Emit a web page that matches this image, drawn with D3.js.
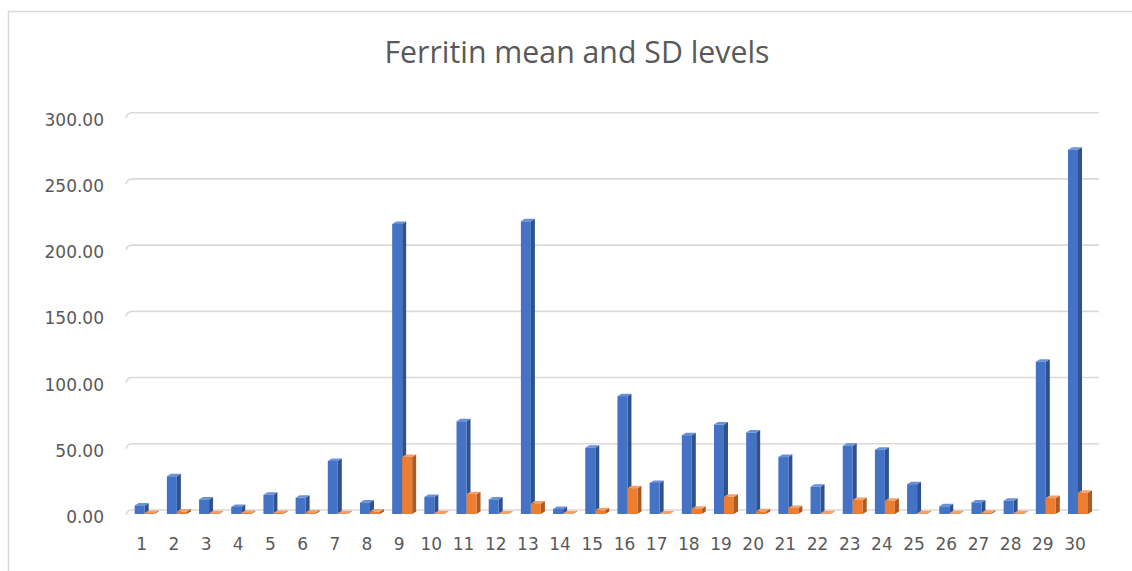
<!DOCTYPE html>
<html>
  <head>
    <meta charset="utf-8">
    <title>Ferritin mean and SD levels</title>
    <script src="https://d3js.org/d3.v7.min.js" charset="utf-8"></script>
    <style>
      body { margin: 0; background: #fff; }
      text { font-family: "DejaVu Sans", sans-serif; fill: #595959; }
    </style>
  </head>
  <body>
    <script>
      var width = 1132;
      var height = 571;

      // data
      var categories = d3.range(1, 31).map(String);
      var meanVals = [6.5, 28.5, 11, 5.3, 14.5, 12.2, 40, 8.7, 219, 12.8,
                      70, 11, 221, 3.8, 50, 89, 23.5, 59.5, 67.5, 61.5,
                      43, 20.5, 51.5, 48.5, 22.5, 5.8, 8.7, 10, 115, 275];
      var sdVals = [0.8, 1.8, 0.6, 0.8, 0.8, 1.2, 0.6, 1.8, 43, 0.6,
                    15, 0.4, 8, 0.5, 2.8, 19.5, 0.4, 4, 13, 2,
                    4.5, 0.5, 10.5, 10, 0.5, 0.5, 1, 0.6, 12, 16];
      var yTicks = [0, 50, 100, 150, 200, 250, 300];

      var series = [
        { values: meanVals, front: "#4472C4", side: "#2F528F", top: "#6A8FD6", off: -7 },
        { values: sdVals, front: "#ED7D31", side: "#AE5A21", top: "#F4A06A", off: 3 }
      ];

      var svg = d3.select("body")
          .append("svg")
          .attr("width", width)
          .attr("height", height);

      // chart border
      svg.append("rect")
        .attr("x", 8.5).attr("y", 11.5)
        .attr("width", 1200).attr("height", 700)
        .attr("fill", "none")
        .attr("stroke", "#d9d9d9")
        .attr("stroke-width", 1.5);

      svg.append("text")
        .attr("x", 577)
        .attr("y", 63)
        .attr("text-anchor", "middle")
        .attr("textLength", 385)
        .attr("lengthAdjust", "spacingAndGlyphs")
        .style("font-family", "'Open Sans', sans-serif")
        .style("font-size", "31px")
        .text("Ferritin mean and SD levels");

      var x = d3.scaleBand().domain(categories).range([125.6, 1091.1]);
      var y = d3.scaleLinear().domain([0, 300]).range([510, 112.7]);

      var front = 4;   // front face sits a bit lower than back wall
      var dx = 4, dy = 2.5, bw = 10;

      // gridlines on back wall
      var grid = svg.append("g");
      grid.selectAll("line")
        .data(yTicks)
        .enter()
        .append("line")
        .attr("x1", 131).attr("x2", 1099)
        .attr("y1", function(d) { return y(d); })
        .attr("y2", function(d) { return y(d); })
        .attr("stroke", "#d9d9d9")
        .attr("stroke-width", 1.6);
      grid.selectAll("path")
        .data(yTicks)
        .enter()
        .append("path")
        .attr("d", function(d) { return "M131," + y(d) + " Q127," + (y(d) + 1) + " 126," + (y(d) + 5); })
        .attr("fill", "none")
        .attr("stroke", "#d9d9d9")
        .attr("stroke-width", 1.6);

      // y labels
      var yAxis = d3.axisLeft(y).tickValues(yTicks).tickFormat(d3.format(".2f")).tickSize(0).tickPadding(0);
      var ya = svg.append("g").attr("transform", "translate(104,7)").call(yAxis);
      ya.select(".domain").remove();
      ya.selectAll("text")
        .attr("fill", "#595959")
        .style("font-family", "'DejaVu Sans', sans-serif")
        .style("font-size", "17px");

      // x labels
      var xAxis = d3.axisBottom(x).tickSize(0).tickPadding(0);
      var xa = svg.append("g").attr("transform", "translate(0,538)").call(xAxis);
      xa.select(".domain").remove();
      xa.selectAll("text")
        .attr("fill", "#595959")
        .style("font-family", "'DejaVu Sans', sans-serif")
        .style("font-size", "17px");

      // 3d columns
      var bars = svg.append("g");
      categories.forEach(function(c, i) {
        var cx = x(c) + x.bandwidth() / 2;
        series.forEach(function(s) {
          var x0 = cx + s.off;
          var yb = y(0) + front;
          var yt = y(s.values[i]) + front;
          var b = bars.append("g");
          b.append("polygon")
            .attr("points", [[x0 + bw, yt], [x0 + bw + dx, yt - dy], [x0 + bw + dx, yb - dy], [x0 + bw, yb]].join(" "))
            .attr("fill", s.side);
          b.append("polygon")
            .attr("points", [[x0, yt], [x0 + dx, yt - dy], [x0 + bw + dx, yt - dy], [x0 + bw, yt]].join(" "))
            .attr("fill", s.top);
          b.append("rect")
            .attr("x", x0).attr("y", yt)
            .attr("width", bw).attr("height", yb - yt)
            .attr("fill", s.front);
        });
      });
    </script>
  </body>
</html>
